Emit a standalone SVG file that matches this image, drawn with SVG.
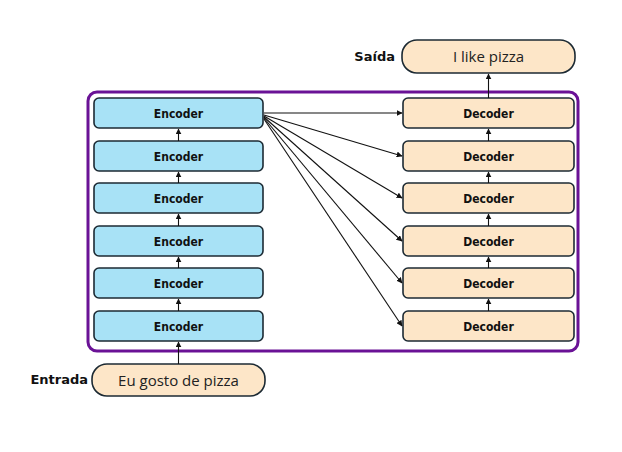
<svg xmlns="http://www.w3.org/2000/svg" width="622" height="452" viewBox="0 0 622 452">
<defs>
<marker id="ah" viewBox="0 0 10 10" refX="9" refY="5" markerWidth="6" markerHeight="6" orient="auto" markerUnits="userSpaceOnUse">
<path d="M0,0 L10,5 L0,10 z" fill="#111"/>
</marker>
<style>
.enc rect{fill:#a8e2f6;stroke:#1c2a33;stroke-width:1.6}
.dec rect{fill:#fde6c8;stroke:#1c2a33;stroke-width:1.6}
.io rect{fill:#fde6c8;stroke:#1c2a33;stroke-width:1.6}
.lbl{font-family:"DejaVu Sans Condensed","DejaVu Sans",sans-serif;font-weight:bold;font-size:12px;fill:#111;text-anchor:middle}
.io text.val{font-family:"Open Sans","Liberation Sans",sans-serif;font-size:15px;fill:#222;text-anchor:middle}
.io text.side{font-family:"DejaVu Sans",sans-serif;font-weight:bold;font-size:13px;fill:#111;text-anchor:end}
.c line{stroke:#111;stroke-width:1.1;marker-end:url(#ah)}
</style>
</defs>
<rect width="622" height="452" fill="#fff"/>
<rect id="frame" x="88" y="92" width="490" height="259" rx="9" fill="none" stroke="#6a1296" stroke-width="3"/>
<g id="enc1" class="enc"><rect x="94" y="98" width="169" height="30" rx="5"/><text class="lbl" x="178.5" y="117.5">Encoder</text></g>
<g id="enc2" class="enc"><rect x="94" y="141" width="169" height="30" rx="5"/><text class="lbl" x="178.5" y="160.5">Encoder</text></g>
<g id="enc3" class="enc"><rect x="94" y="183" width="169" height="30" rx="5"/><text class="lbl" x="178.5" y="202.5">Encoder</text></g>
<g id="enc4" class="enc"><rect x="94" y="226" width="169" height="30" rx="5"/><text class="lbl" x="178.5" y="245.5">Encoder</text></g>
<g id="enc5" class="enc"><rect x="94" y="268" width="169" height="30" rx="5"/><text class="lbl" x="178.5" y="287.5">Encoder</text></g>
<g id="enc6" class="enc"><rect x="94" y="311" width="169" height="30" rx="5"/><text class="lbl" x="178.5" y="330.5">Encoder</text></g>
<g id="dec1" class="dec"><rect x="403" y="98" width="171" height="30" rx="5"/><text class="lbl" x="488.5" y="117.5">Decoder</text></g>
<g id="dec2" class="dec"><rect x="403" y="141" width="171" height="30" rx="5"/><text class="lbl" x="488.5" y="160.5">Decoder</text></g>
<g id="dec3" class="dec"><rect x="403" y="183" width="171" height="30" rx="5"/><text class="lbl" x="488.5" y="202.5">Decoder</text></g>
<g id="dec4" class="dec"><rect x="403" y="226" width="171" height="30" rx="5"/><text class="lbl" x="488.5" y="245.5">Decoder</text></g>
<g id="dec5" class="dec"><rect x="403" y="268" width="171" height="30" rx="5"/><text class="lbl" x="488.5" y="287.5">Decoder</text></g>
<g id="dec6" class="dec"><rect x="403" y="311" width="171" height="30" rx="5"/><text class="lbl" x="488.5" y="330.5">Decoder</text></g>
<g id="output" class="io"><rect x="402" y="40" width="173" height="33" rx="15"/><text class="val" x="488.5" y="62">I like pizza</text><text class="side" x="395" y="61">Saída</text></g>
<g id="input" class="io"><rect x="92" y="364" width="173" height="32" rx="15"/><text class="val" x="178.5" y="386">Eu gosto de pizza</text><text class="side" x="88" y="384">Entrada</text></g>
<g id="connectors" class="c">
<line x1="178.5" y1="364" x2="178.5" y2="342"/>
<line x1="178.5" y1="311" x2="178.5" y2="299"/>
<line x1="178.5" y1="268" x2="178.5" y2="257"/>
<line x1="178.5" y1="226" x2="178.5" y2="214"/>
<line x1="178.5" y1="183" x2="178.5" y2="172"/>
<line x1="178.5" y1="141" x2="178.5" y2="129"/>
<line x1="488.5" y1="311" x2="488.5" y2="299"/>
<line x1="488.5" y1="268" x2="488.5" y2="257"/>
<line x1="488.5" y1="226" x2="488.5" y2="214"/>
<line x1="488.5" y1="183" x2="488.5" y2="172"/>
<line x1="488.5" y1="141" x2="488.5" y2="129"/>
<line x1="488.5" y1="98" x2="488.5" y2="74"/>
<line x1="264" y1="113" x2="402" y2="113"/>
<line x1="264" y1="115" x2="402" y2="156"/>
<line x1="264" y1="116" x2="402" y2="198"/>
<line x1="264" y1="117" x2="402" y2="241"/>
<line x1="264" y1="118" x2="402" y2="283"/>
<line x1="264" y1="119" x2="402" y2="326"/>
</g>
</svg>
